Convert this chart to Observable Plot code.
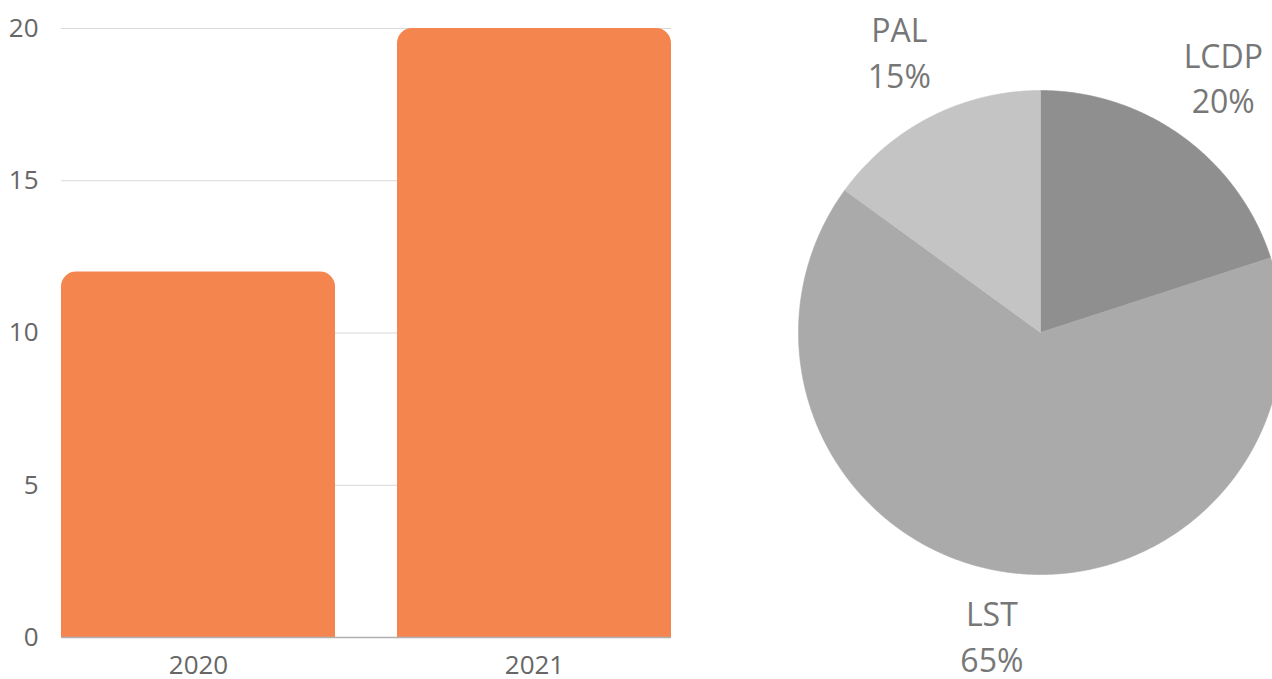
<!DOCTYPE html>
<html>
<head>
<meta charset="utf-8">
<script src="https://cdn.jsdelivr.net/npm/d3@7"></script>
<script src="https://cdn.jsdelivr.net/npm/@observablehq/plot@0.6"></script>
<style>
  html, body { margin: 0; padding: 0; background: #fff; overflow: hidden; }
  #wrap { position: relative; width: 1272px; height: 679px; overflow: hidden; font-family: "Open Sans", sans-serif; }
  #bar { position: absolute; left: 0; top: 0; width: 700px; }
  #pie { position: absolute; left: 710px; top: 0; width: 660px; }
  svg { max-width: none !important; }
</style>
</head>
<body>
<div id="wrap"><div id="bar"></div><div id="pie"></div></div>
<script>
// ---- data ----
const years = ["2020", "2021"];
const counts = [12, 20];
const yTicks = [0, 5, 10, 15, 20];

const sliceLabels = ["LCDP", "LST", "PAL"];
const sliceShares = [20, 65, 15];

// ---- styles ----
const barColor = "#F4854F";
const sliceColors = ["#8f8f8f", "#aaaaaa", "#c4c4c4"];
const textColor = "#666666";

// ---- bar chart ----
const barData = years.map((y, i) => ({year: y, value: counts[i]}));

const barChart = Plot.plot({
  width: 700,
  height: 679,
  marginLeft: 61,
  marginRight: 29,
  marginTop: 28,
  marginBottom: 42,
  style: {fontFamily: "Open Sans", fontSize: "26px", color: textColor, background: "transparent", overflow: "visible", maxWidth: "none"},
  x: {domain: years, paddingInner: 0.185, paddingOuter: 0, label: null},
  y: {domain: [0, 20], label: null},
  marks: [
    Plot.gridY(yTicks, {stroke: "#d9d9d9", strokeOpacity: 1, strokeWidth: 1}),
    Plot.axisY({ticks: yTicks, tickSize: 0, tickPadding: 23, fontSize: 26, fill: textColor, label: null}),
    Plot.axisX({tickSize: 0, tickPadding: 18, fontSize: 26, fill: textColor, label: null}),
    Plot.barY(barData, {x: "year", y: "value", fill: barColor, rx: 15, ry: 15}),
    Plot.barY(barData, {x: "year", y1: 0, y2: d => d.value / 2, fill: barColor}),
    Plot.ruleY([0], {stroke: "#b0b0b0", strokeWidth: 1.5})
  ]
});
document.getElementById("bar").appendChild(barChart);

// ---- pie chart ----
const pieArcs = d3.pie().sort(null).value(d => d)(sliceShares);
const slicePolys = pieArcs.map((a, i) => {
  const pts = [{x: 0, y: 0}];
  const steps = Math.max(2, Math.ceil((a.endAngle - a.startAngle) / (Math.PI / 360)));
  for (let k = 0; k <= steps; k++) {
    const t = a.startAngle + (a.endAngle - a.startAngle) * k / steps;
    pts.push({x: Math.sin(t), y: Math.cos(t)});
  }
  pts.push({x: 0, y: 0});
  return pts;
});
const labelR = 1.285;
const pieLabels = pieArcs.map((a, i) => {
  const m = (a.startAngle + a.endAngle) / 2;
  return {x: labelR * Math.sin(m), y: labelR * Math.cos(m), text: sliceLabels[i] + "\n" + sliceShares[i] + "%"};
});

const cx = 330, cy = 332, R = 242;
const pieChart = Plot.plot({
  width: 660,
  height: 679,
  margin: 0,
  style: {fontFamily: "Open Sans", background: "transparent", overflow: "visible", maxWidth: "none"},
  x: {type: "linear", domain: [-1, 1], range: [cx - R, cx + R], axis: null},
  y: {type: "linear", domain: [-1, 1], range: [cy + R, cy - R], axis: null},
  marks: [
    ...slicePolys.map((pts, i) => Plot.line(pts, {x: "x", y: "y", fill: sliceColors[i], stroke: sliceColors[i], strokeWidth: 0.6, curve: "linear"})),
    Plot.text(pieLabels, {x: "x", y: "y", text: "text", fontSize: 32, fill: "#777777", lineHeight: 1.42, dy: -5})
  ]
});
document.getElementById("pie").appendChild(pieChart);
</script>
</body>
</html>
